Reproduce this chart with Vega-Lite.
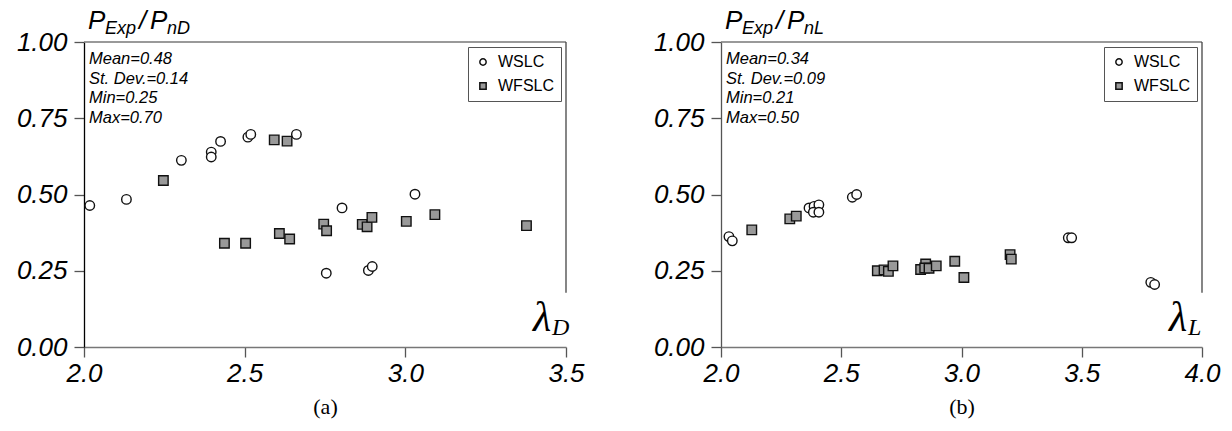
{
  "$schema": "https://vega.github.io/schema/vega-lite/v6.json",
  "padding": {"left": 16, "top": 8, "right": 5, "bottom": 5},
  "background": "white",
  "config": {
    "view": {"stroke": null},
    "font": "Liberation Sans",
    "axis": {
      "grid": false,
      "labelFont": "Liberation Sans",
      "labelFontStyle": "italic",
      "labelFontSize": 26,
      "labelColor": "#000",
      "tickSize": 10,
      "tickColor": "#555",
      "tickWidth": 1.3,
      "domainWidth": 1.3,
      "labelFlush": false,
      "labelOverlap": false,
      "labelBound": false
    },
    "legend": {
      "title": null,
      "orient": "top-right",
      "offset": 5,
      "strokeColor": "#555",
      "fillColor": "white",
      "padding": 7,
      "labelFont": "Liberation Sans",
      "labelFontSize": 16,
      "labelColor": "#000",
      "symbolSize": 40,
      "rowPadding": 8,
      "labelOffset": 7
    }
  },
  "datasets": {
    "a": [
      {"series": "WSLC", "lambda": 2.018, "ratio": 0.464},
      {"series": "WSLC", "lambda": 2.132, "ratio": 0.484},
      {"series": "WSLC", "lambda": 2.303, "ratio": 0.612},
      {"series": "WSLC", "lambda": 2.396, "ratio": 0.639},
      {"series": "WSLC", "lambda": 2.396, "ratio": 0.623},
      {"series": "WSLC", "lambda": 2.425, "ratio": 0.674},
      {"series": "WSLC", "lambda": 2.510, "ratio": 0.688},
      {"series": "WSLC", "lambda": 2.519, "ratio": 0.697},
      {"series": "WSLC", "lambda": 2.661, "ratio": 0.697},
      {"series": "WSLC", "lambda": 2.803, "ratio": 0.456},
      {"series": "WSLC", "lambda": 2.754, "ratio": 0.242},
      {"series": "WSLC", "lambda": 3.030, "ratio": 0.501},
      {"series": "WSLC", "lambda": 2.885, "ratio": 0.251},
      {"series": "WSLC", "lambda": 2.897, "ratio": 0.264},
      {"series": "WFSLC", "lambda": 2.247, "ratio": 0.546},
      {"series": "WFSLC", "lambda": 2.592, "ratio": 0.679},
      {"series": "WFSLC", "lambda": 2.632, "ratio": 0.675},
      {"series": "WFSLC", "lambda": 2.437, "ratio": 0.340},
      {"series": "WFSLC", "lambda": 2.503, "ratio": 0.340},
      {"series": "WFSLC", "lambda": 2.608, "ratio": 0.372},
      {"series": "WFSLC", "lambda": 2.640, "ratio": 0.354},
      {"series": "WFSLC", "lambda": 2.746, "ratio": 0.403},
      {"series": "WFSLC", "lambda": 2.755, "ratio": 0.381},
      {"series": "WFSLC", "lambda": 2.866, "ratio": 0.402},
      {"series": "WFSLC", "lambda": 2.881, "ratio": 0.394},
      {"series": "WFSLC", "lambda": 2.896, "ratio": 0.425},
      {"series": "WFSLC", "lambda": 3.003, "ratio": 0.412},
      {"series": "WFSLC", "lambda": 3.092, "ratio": 0.434},
      {"series": "WFSLC", "lambda": 3.377, "ratio": 0.398}
    ],
    "b": [
      {"series": "WSLC", "lambda": 2.033, "ratio": 0.362},
      {"series": "WSLC", "lambda": 2.047, "ratio": 0.348},
      {"series": "WSLC", "lambda": 2.366, "ratio": 0.456},
      {"series": "WSLC", "lambda": 2.387, "ratio": 0.461},
      {"series": "WSLC", "lambda": 2.407, "ratio": 0.466},
      {"series": "WSLC", "lambda": 2.384, "ratio": 0.442},
      {"series": "WSLC", "lambda": 2.407, "ratio": 0.442},
      {"series": "WSLC", "lambda": 2.546, "ratio": 0.491},
      {"series": "WSLC", "lambda": 2.564, "ratio": 0.500},
      {"series": "WSLC", "lambda": 3.444, "ratio": 0.358},
      {"series": "WSLC", "lambda": 3.458, "ratio": 0.358},
      {"series": "WSLC", "lambda": 3.787, "ratio": 0.212},
      {"series": "WSLC", "lambda": 3.803, "ratio": 0.205},
      {"series": "WFSLC", "lambda": 2.128, "ratio": 0.384},
      {"series": "WFSLC", "lambda": 2.286, "ratio": 0.420},
      {"series": "WFSLC", "lambda": 2.313, "ratio": 0.429},
      {"series": "WFSLC", "lambda": 2.650, "ratio": 0.250},
      {"series": "WFSLC", "lambda": 2.678, "ratio": 0.253},
      {"series": "WFSLC", "lambda": 2.696, "ratio": 0.248},
      {"series": "WFSLC", "lambda": 2.715, "ratio": 0.266},
      {"series": "WFSLC", "lambda": 2.830, "ratio": 0.254},
      {"series": "WFSLC", "lambda": 2.851, "ratio": 0.272},
      {"series": "WFSLC", "lambda": 2.847, "ratio": 0.259},
      {"series": "WFSLC", "lambda": 2.865, "ratio": 0.258},
      {"series": "WFSLC", "lambda": 2.895, "ratio": 0.266},
      {"series": "WFSLC", "lambda": 2.972, "ratio": 0.281},
      {"series": "WFSLC", "lambda": 3.010, "ratio": 0.228},
      {"series": "WFSLC", "lambda": 3.202, "ratio": 0.303},
      {"series": "WFSLC", "lambda": 3.207, "ratio": 0.288}
    ]
  },
  "hconcat": [
    {
      "width": 482,
      "height": 305,
      "data": {"name": "a"},
      "layer": [
        {
          "mark": {"type": "point", "filled": true, "size": 90, "stroke": "#111", "strokeWidth": 1.4, "opacity": 1},
          "encoding": {
            "x": {"field": "lambda", "type": "quantitative",
              "scale": {"domain": [2, 3.5], "nice": false, "zero": false},
              "axis": {"values": [2, 2.5, 3, 3.5], "format": ".1f", "domainColor": "#777", "labelPadding": 3,
                "title": "(a)", "titleFont": "Liberation Serif", "titleFontSize": 22, "titleFontWeight": "normal", "titleColor": "#000", "titlePadding": 10}},
            "y": {"field": "ratio", "type": "quantitative",
              "scale": {"domain": [0, 1], "nice": false, "zero": true},
              "axis": {"values": [0, 0.25, 0.5, 0.75, 1], "format": ".2f", "domainColor": "#000", "labelPadding": 7, "title": null}},
            "shape": {"field": "series", "type": "nominal",
              "scale": {"domain": ["WSLC", "WFSLC"], "range": ["circle", "square"]},
              "legend": {"encode": {"symbols": {"update": {"stroke": {"value": "#111"}, "strokeWidth": {"value": 1}}}}}},
            "fill": {"field": "series", "type": "nominal",
              "scale": {"domain": ["WSLC", "WFSLC"], "range": ["#ffffff", "#999999"]},
              "legend": {"encode": {"symbols": {"update": {"stroke": {"value": "#111"}, "strokeWidth": {"value": 1}}}}}}
          }
        },
        {"data": {"values": [{}]}, "mark": {"type": "rule", "color": "#777", "strokeWidth": 1.3},
          "encoding": {"x": {"datum": 2}, "x2": {"datum": 3.5}, "y": {"datum": 1}}},
        {"data": {"values": [{}]}, "mark": {"type": "rule", "color": "#444", "strokeWidth": 1.3},
          "encoding": {"x": {"datum": 3.5}, "y": {"datum": 0.178}, "y2": {"datum": 1}}},
        {"data": {"values": [{}]},
          "mark": {"type": "text", "text": ["Mean=0.48", "St. Dev.=0.14", "Min=0.25", "Max=0.70"], "align": "left", "baseline": "top", "dx": 5, "dy": 9, "font": "Liberation Sans", "fontStyle": "italic", "fontSize": 16.5, "lineHeight": 19.5, "color": "#000"},
          "encoding": {"x": {"datum": 2}, "y": {"datum": 1}}},
        {"data": {"values": [{}]},
          "mark": {"type": "text", "text": "P", "align": "left", "baseline": "alphabetic", "dx": 4, "dy": -13, "font": "Liberation Sans", "fontStyle": "italic", "fontSize": 26, "color": "#000"},
          "encoding": {"x": {"datum": 2}, "y": {"datum": 1}}},
        {"data": {"values": [{}]},
          "mark": {"type": "text", "text": "Exp", "align": "left", "baseline": "alphabetic", "dx": 21, "dy": -8, "font": "Liberation Sans", "fontStyle": "italic", "fontSize": 18, "color": "#000"},
          "encoding": {"x": {"datum": 2}, "y": {"datum": 1}}},
        {"data": {"values": [{}]},
          "mark": {"type": "text", "text": "/", "align": "left", "baseline": "alphabetic", "dx": 55, "dy": -13, "font": "Liberation Sans", "fontStyle": "italic", "fontSize": 26, "color": "#000"},
          "encoding": {"x": {"datum": 2}, "y": {"datum": 1}}},
        {"data": {"values": [{}]},
          "mark": {"type": "text", "text": "P", "align": "left", "baseline": "alphabetic", "dx": 66, "dy": -13, "font": "Liberation Sans", "fontStyle": "italic", "fontSize": 26, "color": "#000"},
          "encoding": {"x": {"datum": 2}, "y": {"datum": 1}}},
        {"data": {"values": [{}]},
          "mark": {"type": "text", "text": "nD", "align": "left", "baseline": "alphabetic", "dx": 83, "dy": -8, "font": "Liberation Sans", "fontStyle": "italic", "fontSize": 18, "color": "#000"},
          "encoding": {"x": {"datum": 2}, "y": {"datum": 1}}},
        {"data": {"values": [{}]},
          "mark": {"type": "text", "text": "λ", "align": "left", "baseline": "alphabetic", "dx": -33, "dy": -16, "font": "Liberation Serif", "fontStyle": "italic", "fontSize": 42, "color": "#000"},
          "encoding": {"x": {"datum": 3.5}, "y": {"datum": 0}}},
        {"data": {"values": [{}]},
          "mark": {"type": "text", "text": "D", "align": "left", "baseline": "alphabetic", "dx": -14, "dy": -12, "font": "Liberation Serif", "fontStyle": "italic", "fontSize": 24, "color": "#000"},
          "encoding": {"x": {"datum": 3.5}, "y": {"datum": 0}}}
      ]
    },
    {
      "width": 481,
      "height": 305,
      "data": {"name": "b"},
      "layer": [
        {
          "mark": {"type": "point", "filled": true, "size": 90, "stroke": "#111", "strokeWidth": 1.4, "opacity": 1},
          "encoding": {
            "x": {"field": "lambda", "type": "quantitative",
              "scale": {"domain": [2, 4], "nice": false, "zero": false},
              "axis": {"values": [2, 2.5, 3, 3.5, 4], "format": ".1f", "domainColor": "#777", "labelPadding": 3,
                "title": "(b)", "titleFont": "Liberation Serif", "titleFontSize": 22, "titleFontWeight": "normal", "titleColor": "#000", "titlePadding": 10}},
            "y": {"field": "ratio", "type": "quantitative",
              "scale": {"domain": [0, 1], "nice": false, "zero": true},
              "axis": {"values": [0, 0.25, 0.5, 0.75, 1], "format": ".2f", "domainColor": "#555", "labelPadding": 7, "title": null}},
            "shape": {"field": "series", "type": "nominal",
              "scale": {"domain": ["WSLC", "WFSLC"], "range": ["circle", "square"]},
              "legend": {"encode": {"symbols": {"update": {"stroke": {"value": "#111"}, "strokeWidth": {"value": 1}}}}}},
            "fill": {"field": "series", "type": "nominal",
              "scale": {"domain": ["WSLC", "WFSLC"], "range": ["#ffffff", "#999999"]},
              "legend": {"encode": {"symbols": {"update": {"stroke": {"value": "#111"}, "strokeWidth": {"value": 1}}}}}}
          }
        },
        {"data": {"values": [{}]}, "mark": {"type": "rule", "color": "#777", "strokeWidth": 1.3},
          "encoding": {"x": {"datum": 2}, "x2": {"datum": 4}, "y": {"datum": 1}}},
        {"data": {"values": [{}]}, "mark": {"type": "rule", "color": "#444", "strokeWidth": 1.3},
          "encoding": {"x": {"datum": 4}, "y": {"datum": 0.178}, "y2": {"datum": 1}}},
        {"data": {"values": [{}]},
          "mark": {"type": "text", "text": ["Mean=0.34", "St. Dev.=0.09", "Min=0.21", "Max=0.50"], "align": "left", "baseline": "top", "dx": 5, "dy": 9, "font": "Liberation Sans", "fontStyle": "italic", "fontSize": 16.5, "lineHeight": 19.5, "color": "#000"},
          "encoding": {"x": {"datum": 2}, "y": {"datum": 1}}},
        {"data": {"values": [{}]},
          "mark": {"type": "text", "text": "P", "align": "left", "baseline": "alphabetic", "dx": 4, "dy": -13, "font": "Liberation Sans", "fontStyle": "italic", "fontSize": 26, "color": "#000"},
          "encoding": {"x": {"datum": 2}, "y": {"datum": 1}}},
        {"data": {"values": [{}]},
          "mark": {"type": "text", "text": "Exp", "align": "left", "baseline": "alphabetic", "dx": 21, "dy": -8, "font": "Liberation Sans", "fontStyle": "italic", "fontSize": 18, "color": "#000"},
          "encoding": {"x": {"datum": 2}, "y": {"datum": 1}}},
        {"data": {"values": [{}]},
          "mark": {"type": "text", "text": "/", "align": "left", "baseline": "alphabetic", "dx": 55, "dy": -13, "font": "Liberation Sans", "fontStyle": "italic", "fontSize": 26, "color": "#000"},
          "encoding": {"x": {"datum": 2}, "y": {"datum": 1}}},
        {"data": {"values": [{}]},
          "mark": {"type": "text", "text": "P", "align": "left", "baseline": "alphabetic", "dx": 66, "dy": -13, "font": "Liberation Sans", "fontStyle": "italic", "fontSize": 26, "color": "#000"},
          "encoding": {"x": {"datum": 2}, "y": {"datum": 1}}},
        {"data": {"values": [{}]},
          "mark": {"type": "text", "text": "nL", "align": "left", "baseline": "alphabetic", "dx": 83, "dy": -8, "font": "Liberation Sans", "fontStyle": "italic", "fontSize": 18, "color": "#000"},
          "encoding": {"x": {"datum": 2}, "y": {"datum": 1}}},
        {"data": {"values": [{}]},
          "mark": {"type": "text", "text": "λ", "align": "left", "baseline": "alphabetic", "dx": -33, "dy": -16, "font": "Liberation Serif", "fontStyle": "italic", "fontSize": 42, "color": "#000"},
          "encoding": {"x": {"datum": 4}, "y": {"datum": 0}}},
        {"data": {"values": [{}]},
          "mark": {"type": "text", "text": "L", "align": "left", "baseline": "alphabetic", "dx": -14, "dy": -12, "font": "Liberation Serif", "fontStyle": "italic", "fontSize": 24, "color": "#000"},
          "encoding": {"x": {"datum": 4}, "y": {"datum": 0}}}
      ]
    }
  ],
  "spacing": 155,
  "bounds": "flush",
  "resolve": {
    "scale": {"x": "independent", "y": "independent", "shape": "independent", "fill": "independent"},
    "legend": {"shape": "independent", "fill": "independent"}
  }
}
